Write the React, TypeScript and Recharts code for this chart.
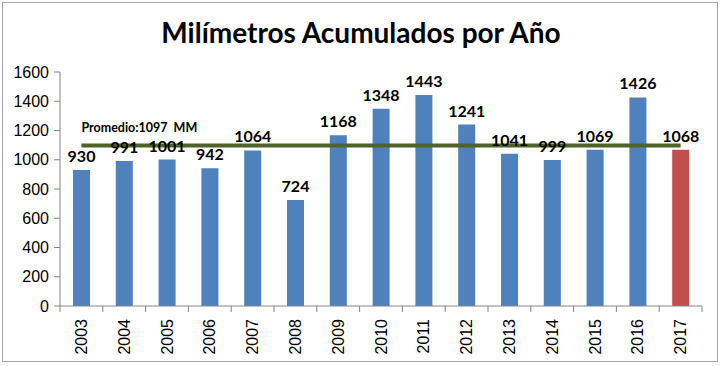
import { BarChart, Bar, XAxis, YAxis, Cell, LabelList, ReferenceLine } from "recharts";

const years = ["2003", "2004", "2005", "2006", "2007", "2008", "2009", "2010", "2011", "2012", "2013", "2014", "2015", "2016", "2017"];
const millimeters = [930, 991, 1001, 942, 1064, 724, 1168, 1348, 1443, 1241, 1041, 999, 1069, 1426, 1068];
const yTicks = [0, 200, 400, 600, 800, 1000, 1200, 1400, 1600];
const average = 1097;
const averageLabel = "Promedio:1097  MM";

const data = years.map((year, i) => ({ year, mm: millimeters[i] }));

const STEP = 642 / years.length;

function YearTick(props: any) {
  const { x, y, payload, index } = props;
  const isLast = index === years.length - 1;
  return (
    <g>
      <line x1={x - STEP / 2} y1={y - 8} x2={x - STEP / 2} y2={y - 2} stroke="#868686" />
      {isLast && <line x1={x + STEP / 2} y1={y - 8} x2={x + STEP / 2} y2={y - 2} stroke="#868686" />}
      <text
        x={x}
        y={y + 5}
        transform={`rotate(-90 ${x} ${y + 5})`}
        textAnchor="end"
        dominantBaseline="central"
        fontSize={16}
        fontFamily="Liberation Sans, Arial, sans-serif"
        fill="#000"
      >
        {payload.value}
      </text>
    </g>
  );
}

function AverageLabel(props: any) {
  const { viewBox } = props;
  return (
    <text
      x={viewBox.x}
      y={viewBox.y - 18}
      fontSize={12.5}
      fontWeight="bold"
      fontFamily="Lato, sans-serif"
      fill="#000"
      dominantBaseline="central"
      style={{ whiteSpace: "pre" }}
    >
      {averageLabel}
    </text>
  );
}

export default function App() {
  return (
    <div style={{ position: "absolute", left: 0, top: 0, width: 725, height: 366, background: "#fff" }}>
      <div
        style={{
          position: "absolute",
          left: 2,
          top: 2,
          width: 716,
          height: 360,
          border: "1px solid #a6a6a6",
          boxSizing: "border-box",
        }}
      />
      <div
        style={{
          position: "absolute",
          left: 0,
          width: 722,
          top: 15,
          textAlign: "center",
          fontFamily: "Lato, sans-serif",
          fontWeight: "bold",
          fontSize: 28,
          color: "#000",
        }}
      >
        Milímetros Acumulados por Año
      </div>
      <div style={{ position: "absolute", left: 0, top: 0 }}>
        <BarChart width={725} height={366} data={data} margin={{ top: 72, right: 23, bottom: 10, left: 0 }}>
          <XAxis
            dataKey="year"
            height={50}
            interval={0}
            tickLine={false}
            stroke="#868686"
            tick={<YearTick />}
          />
          <YAxis
            width={60}
            domain={[0, 1600]}
            ticks={yTicks}
            interval={0}
            stroke="#868686"
            tickSize={6}
            tickMargin={5}
            tick={{ fontSize: 16, fill: "#000", fontFamily: "Liberation Sans, Arial, sans-serif" }}
          />
          <Bar dataKey="mm" barSize={17} isAnimationActive={false}>
            {data.map((d, i) => (
              <Cell key={d.year} fill={i === data.length - 1 ? "#C0504D" : "#4F81BD"} />
            ))}
            <LabelList
              dataKey="mm"
              position="top"
              offset={8}
              fontSize={16}
              fontWeight="bold"
              fontFamily="Lato, sans-serif"
              fill="#000"
            />
          </Bar>
          <ReferenceLine
            segment={[
              { x: years[0], y: average },
              { x: years[years.length - 1], y: average },
            ]}
            stroke="#4F6228"
            strokeWidth={4}
            label={<AverageLabel />}
          />
        </BarChart>
      </div>
    </div>
  );
}
